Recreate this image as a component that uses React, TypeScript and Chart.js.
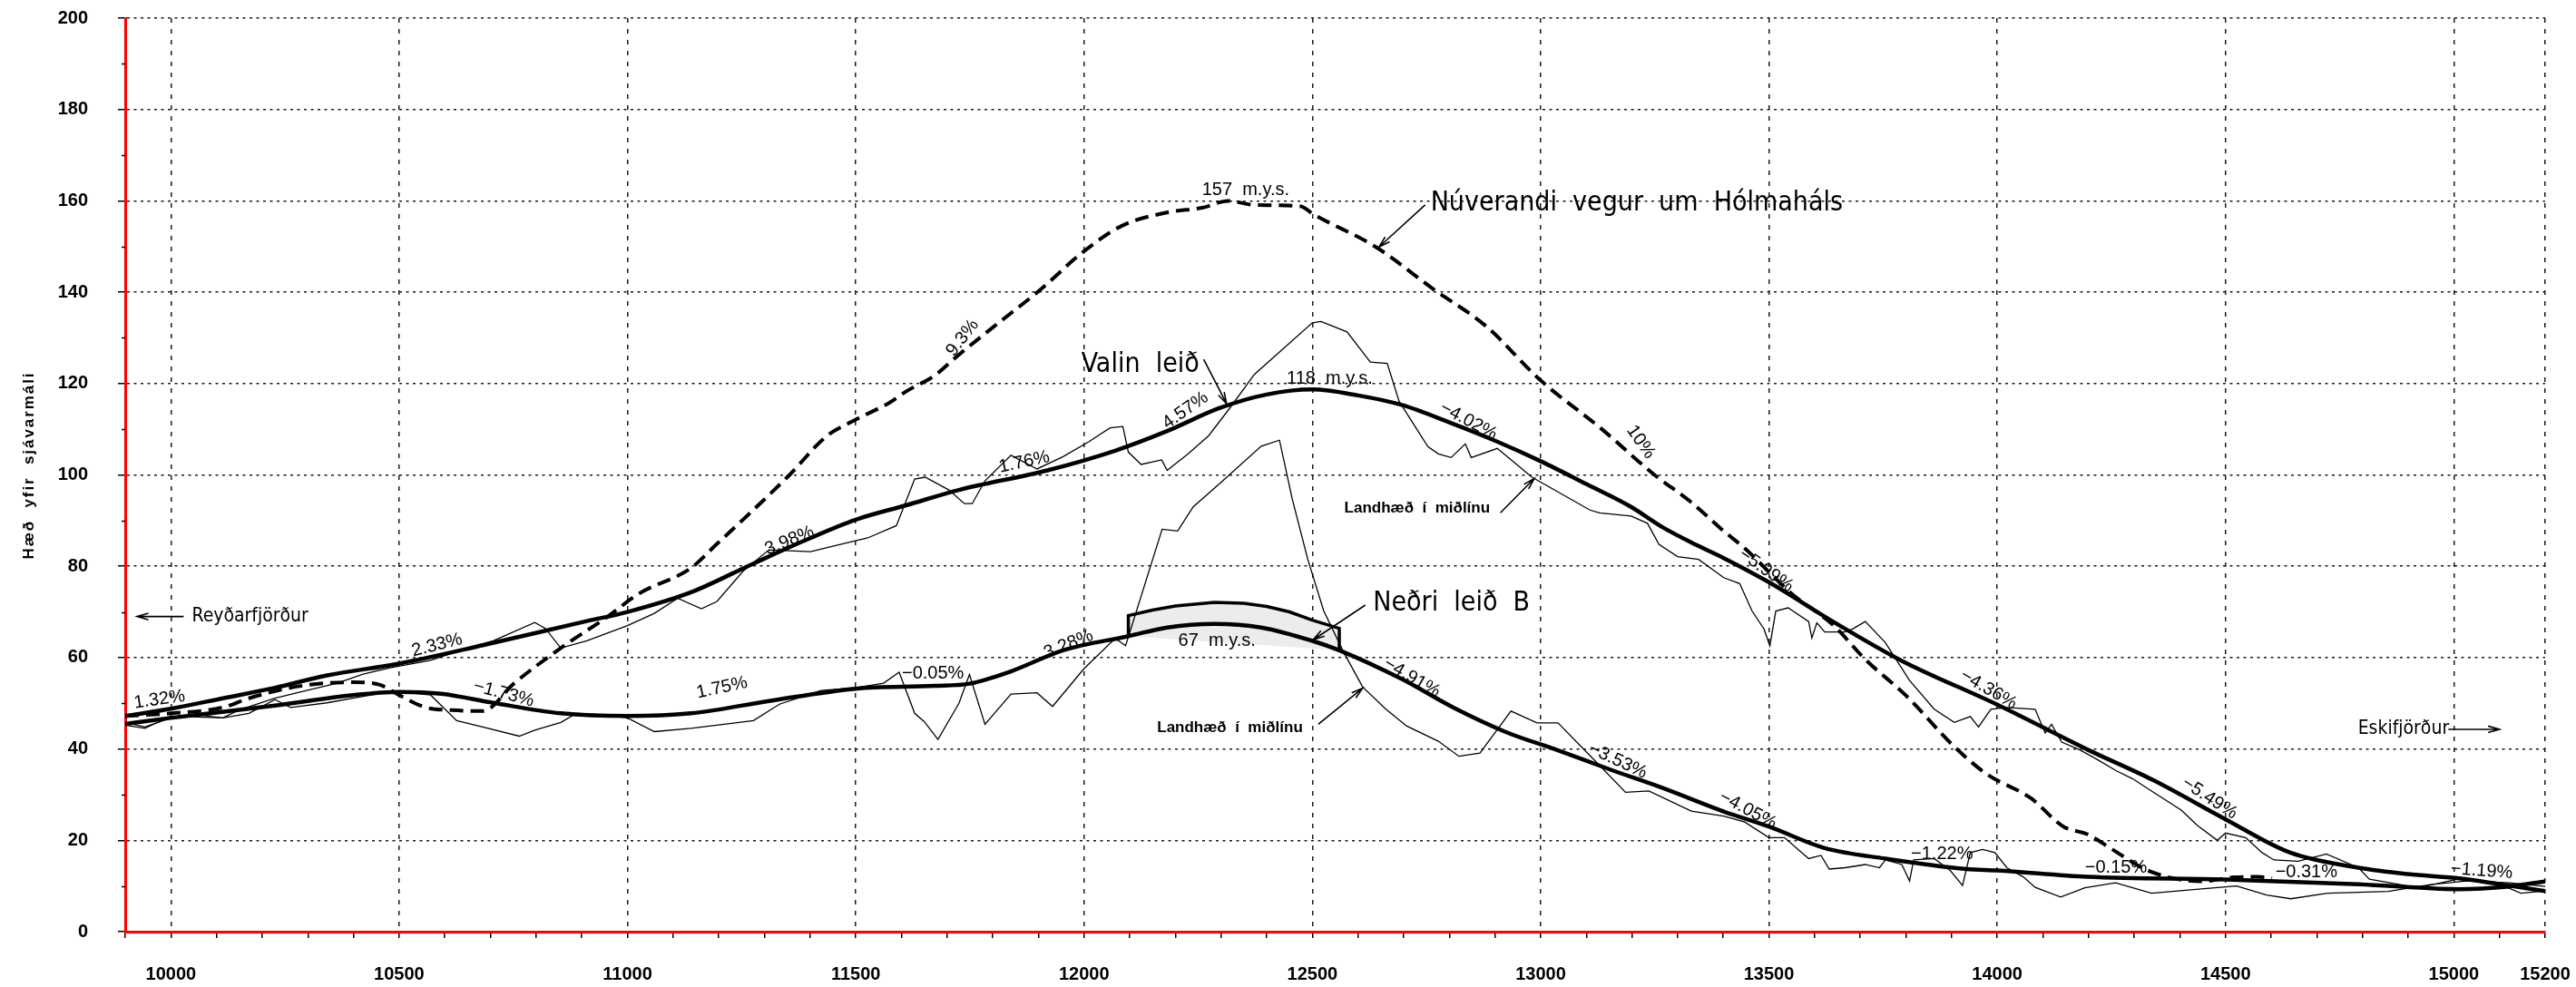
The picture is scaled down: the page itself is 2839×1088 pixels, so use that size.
import React, { useEffect, useRef } from 'react';
import { Chart, registerables } from 'chart.js';

Chart.register(...registerables);

// ---------- axes ----------
const X_MIN = 9900;
const X_MAX = 15200;
const Y_MIN = 0;
const Y_MAX = 200;
const xLabelTicks = [10000, 10500, 11000, 11500, 12000, 12500, 13000, 13500, 14000, 14500, 15000, 15200];
const yLabelTicks = [0, 20, 40, 60, 80, 100, 120, 140, 160, 180, 200];
const yMinorTicks = [10, 30, 50, 70, 90, 110, 130, 150, 170, 190];
const yTitle = 'Hæð  yfir  sjávarmáli';

// ---------- Núverandi vegur (dashed) ----------
const roadX = [9900, 10000, 10114, 10171, 10285, 10399, 10456, 10500, 10558, 10615, 10683, 10752, 10854, 10957, 11025, 11139, 11196, 11253, 11356, 11435, 11500, 11572, 11614, 11672, 11722, 11804, 11905, 11994, 12082, 12184, 12259, 12316, 12373, 12475, 12500, 12639, 12766, 12880, 13000, 13133, 13247, 13330, 13401, 13445, 13551, 13640, 13711, 13800, 13906, 13977, 14074, 14145, 14198, 14252, 14323, 14376, 14447, 14518, 14571, 14602];
const roadY = [47.2, 47.8, 49.1, 51.1, 53.8, 54.6, 54.1, 51.8, 49.1, 48.5, 48.3, 54.4, 62.1, 69.0, 74.0, 79.6, 84.9, 90.2, 100.1, 108.4, 112.1, 115.7, 118.5, 121.7, 126.0, 132.6, 140.6, 148.5, 154.5, 157.5, 158.5, 160.0, 159.1, 158.8, 157.2, 149.9, 140.6, 132.6, 120.7, 110.1, 100.2, 94.0, 87.7, 84.1, 73.9, 67.2, 59.6, 51.7, 40.5, 34.5, 29.2, 23.0, 21.3, 18.0, 13.7, 11.9, 11.0, 11.9, 12.0, 11.7];

// ---------- Valin leið ----------
const valinX = [9900, 10000, 10114, 10228, 10342, 10500, 10683, 10911, 11000, 11139, 11276, 11401, 11500, 11612, 11726, 11920, 12068, 12182, 12296, 12400, 12500, 12600, 12696, 12800, 12900, 13000, 13100, 13198, 13266, 13330, 13401, 13500, 13640, 13791, 14000, 14199, 14341, 14500, 14642, 14791, 14900, 15008, 15100, 15200];
const valinY = [47.2, 48.8, 51.1, 53.4, 56.1, 58.7, 62.7, 68.0, 70.0, 74.3, 80.6, 86.2, 90.2, 93.4, 96.7, 101.0, 105.3, 109.6, 114.6, 117.6, 118.7, 117.4, 115.3, 111.5, 107.5, 103.0, 98.0, 93.0, 88.6, 85.2, 81.8, 76.5, 67.9, 59.3, 49.7, 39.8, 33.2, 24.6, 17.3, 14.0, 12.6, 11.7, 10.4, 8.9];

// ---------- Neðri leið B ----------
const nedriX = [9900, 10000, 10228, 10399, 10500, 10592, 10706, 10854, 11000, 11139, 11310, 11500, 11672, 11749, 11840, 11954, 12097, 12182, 12285, 12388, 12502, 12559, 12696, 12810, 12924, 13038, 13152, 13266, 13401, 13500, 13622, 13755, 13933, 14000, 14199, 14500, 14791, 15008, 15121, 15200];
const nedriY = [45.5, 46.8, 49.5, 51.8, 52.5, 52.1, 50.1, 47.8, 47.2, 47.8, 50.5, 53.2, 53.8, 54.3, 57.0, 61.6, 64.7, 66.6, 67.4, 66.6, 63.6, 61.6, 55.3, 49.0, 43.7, 39.7, 35.5, 31.5, 26.3, 23.0, 18.3, 16.0, 13.7, 13.4, 12.0, 11.4, 10.4, 9.3, 9.9, 11.0];

// ---------- göng / skering (box on Neðri leið B) ----------
const tunnelX = [12097, 12097, 12150, 12200, 12285, 12350, 12400, 12450, 12500, 12559, 12559];
const tunnelY = [64.7, 69.2, 70.4, 71.3, 72.1, 71.9, 71.2, 70.0, 68.2, 66.4, 61.6];

// ---------- Landhæð í miðlínu (Valin leið) ----------
const terrainUpX = [9900, 9943, 10000, 10057, 10114, 10148, 10228, 10285, 10364, 10421, 10478, 10569, 10638, 10706, 10797, 10820, 10854, 10911, 11000, 11059, 11110, 11162, 11196, 11253, 11310, 11401, 11458, 11526, 11589, 11629, 11652, 11704, 11738, 11755, 11783, 11840, 11897, 11954, 12011, 12057, 12085, 12097, 12125, 12170, 12182, 12228, 12273, 12319, 12373, 12500, 12519, 12576, 12627, 12664, 12690, 12753, 12776, 12804, 12835, 12848, 12905, 12981, 13108, 13129, 13198, 13234, 13259, 13300, 13346, 13401, 13436, 13463, 13489, 13502, 13515, 13542, 13587, 13594, 13605, 13622, 13667, 13684, 13711, 13755, 13808, 13862, 13906, 13941, 13959, 13986, 14021, 14083, 14105, 14119, 14141, 14181, 14217, 14261, 14296, 14341, 14403, 14438, 14482, 14500, 14544, 14580, 14606, 14659, 14721, 14791, 14815, 14922, 15008, 15088, 15147, 15200];
const terrainUpY = [45.8, 44.8, 46.8, 47.5, 46.8, 48.5, 51.1, 52.5, 54.4, 56.4, 57.7, 59.4, 61.7, 63.7, 67.7, 66.4, 62.1, 63.7, 67.0, 69.7, 73.0, 70.7, 72.3, 78.9, 83.6, 83.2, 84.6, 86.2, 88.9, 99.1, 99.5, 96.7, 93.7, 93.7, 98.7, 104.3, 101.3, 104.0, 107.3, 110.3, 110.6, 105.0, 102.3, 103.3, 101.0, 104.6, 108.6, 114.6, 122.0, 133.3, 133.6, 131.3, 124.7, 124.4, 116.1, 106.2, 104.6, 103.8, 106.8, 103.8, 105.8, 99.5, 92.3, 91.7, 91.0, 89.4, 84.8, 82.1, 81.5, 77.5, 76.2, 70.2, 66.3, 62.6, 70.2, 70.9, 67.9, 64.3, 67.6, 65.6, 65.6, 66.3, 67.9, 63.3, 55.0, 48.7, 45.8, 47.1, 44.8, 48.7, 49.1, 48.7, 43.5, 45.4, 41.5, 39.8, 37.8, 35.2, 33.5, 30.6, 26.6, 23.3, 20.0, 21.6, 20.6, 17.3, 15.7, 15.4, 17.0, 14.0, 11.5, 9.6, 11.5, 10.9, 8.4, 8.9];

// ---------- Landhæð í miðlínu (Neðri leið B) ----------
const terrainLowX = [9900, 9943, 10000, 10114, 10171, 10228, 10262, 10342, 10399, 10456, 10500, 10569, 10626, 10683, 10763, 10797, 10854, 10888, 10945, 11000, 11059, 11139, 11276, 11333, 11424, 11500, 11561, 11595, 11629, 11650, 11680, 11726, 11749, 11783, 11840, 11897, 11931, 12000, 12068, 12091, 12171, 12205, 12239, 12296, 12388, 12428, 12456, 12490, 12525, 12570, 12610, 12661, 12707, 12776, 12821, 12867, 12935, 12992, 13038, 13129, 13186, 13237, 13330, 13401, 13447, 13500, 13534, 13587, 13614, 13632, 13667, 13711, 13742, 13755, 13791, 13808, 13817, 13862, 13897, 13924, 13941, 13968, 13995, 14021, 14057, 14083, 14139, 14192, 14259, 14338, 14418, 14524, 14590, 14643, 14723, 14856, 14949, 15028, 15121, 15200];
const terrainLowY = [45.2, 44.5, 47.2, 46.8, 47.8, 50.8, 49.1, 50.1, 51.1, 52.1, 52.5, 51.8, 46.2, 44.8, 42.8, 44.1, 45.8, 47.8, 47.5, 46.8, 43.8, 44.5, 46.2, 49.8, 52.8, 53.4, 54.4, 56.8, 47.8, 46.0, 42.1, 50.0, 56.3, 45.4, 52.0, 52.3, 49.3, 57.6, 64.2, 62.6, 88.1, 87.7, 93.0, 98.0, 106.3, 107.6, 94.7, 81.5, 70.2, 60.9, 53.6, 48.7, 45.0, 41.7, 38.4, 39.1, 48.3, 45.7, 45.7, 36.4, 30.5, 30.8, 26.4, 25.3, 24.0, 20.6, 20.6, 16.0, 16.7, 13.7, 14.0, 14.7, 14.0, 15.7, 14.7, 11.1, 15.7, 16.0, 13.4, 10.1, 17.3, 18.0, 17.3, 14.0, 12.0, 9.7, 7.6, 9.6, 10.7, 8.4, 9.1, 10.0, 8.0, 7.2, 8.4, 8.8, 10.3, 11.1, 10.7, 9.9];

// ---------- text labels (data coordinates) ----------
type Label = { text: string; x: number; y: number; rot: number; kind: 'pct' | 'big' | 'small' | 'place'; align?: CanvasTextAlign };
const gradeLabels: Label[] = [
  { text: '1.32%', x: 9975, y: 50.8, rot: -8, kind: 'pct' },
  { text: '2.33%', x: 10583, y: 62.7, rot: -14, kind: 'pct' },
  { text: '3.98%', x: 11355, y: 85.6, rot: -22, kind: 'pct' },
  { text: '\u22121.73%', x: 10729, y: 52.1, rot: 15, kind: 'pct' },
  { text: '1.75%', x: 11207, y: 53.4, rot: -12, kind: 'pct' },
  { text: '\u22120.05%', x: 11669, y: 56.6, rot: 0, kind: 'pct' },
  { text: '3.28%', x: 11966, y: 62.9, rot: -22, kind: 'pct' },
  { text: '1.76%', x: 11869, y: 102.8, rot: -12, kind: 'pct' },
  { text: '4.57%', x: 12222, y: 114.1, rot: -35, kind: 'pct' },
  { text: '9.3%', x: 11734, y: 130.0, rot: -52, kind: 'pct' },
  { text: '\u22124.02%', x: 12842, y: 111.8, rot: 28, kind: 'pct' },
  { text: '10%', x: 13219, y: 107.2, rot: 55, kind: 'pct' },
  { text: '\u22125.99%', x: 13494, y: 79.1, rot: 35, kind: 'pct' },
  { text: '\u22124.36%', x: 13981, y: 53.0, rot: 30, kind: 'pct' },
  { text: '\u22125.49%', x: 14465, y: 29.2, rot: 33, kind: 'pct' },
  { text: '\u22124.05%', x: 13454, y: 26.6, rot: 28, kind: 'pct' },
  { text: '\u22123.53%', x: 13169, y: 37.4, rot: 25, kind: 'pct' },
  { text: '\u22124.91%', x: 12718, y: 55.6, rot: 30, kind: 'pct' },
  { text: '\u22121.22%', x: 13879, y: 17.0, rot: 0, kind: 'pct' },
  { text: '\u22120.15%', x: 14260, y: 14.0, rot: 0, kind: 'pct' },
  { text: '\u22120.31%', x: 14677, y: 13.0, rot: 0, kind: 'pct' },
  { text: '\u22121.19%', x: 15061, y: 13.3, rot: 4, kind: 'pct' },
  { text: '157  m.y.s.', x: 12354, y: 162.3, rot: 0, kind: 'pct' },
  { text: '118  m.y.s.', x: 12538, y: 121.1, rot: 0, kind: 'pct' },
  { text: '67  m.y.s.', x: 12291, y: 63.6, rot: 0, kind: 'pct' },
];
const nameLabels: Label[] = [
  { text: 'Núverandi  vegur  um  Hólmaháls', x: 12759, y: 159.5, rot: 0, kind: 'big', align: 'left' },
  { text: 'Valin  leið', x: 11994, y: 124.0, rot: 0, kind: 'big', align: 'left' },
  { text: 'Neðri  leið  B', x: 12633, y: 71.9, rot: 0, kind: 'big', align: 'left' },
  { text: 'Landhæð  í  miðlínu', x: 12570, y: 92.6, rot: 0, kind: 'small', align: 'left' },
  { text: 'Landhæð  í  miðlínu', x: 12160, y: 44.7, rot: 0, kind: 'small', align: 'left' },
  { text: 'Reyðarfjörður', x: 10046, y: 69.0, rot: 0, kind: 'place', align: 'left' },
  { text: 'Eskifjörður', x: 14790, y: 44.3, rot: 0, kind: 'place', align: 'left' },
];
// arrows: [fromX, fromY, toX, toY] (head at "to")
const arrows: number[][] = [
  [12747, 159.1, 12646, 149.9],
  [12262, 125.3, 12312, 115.6],
  [12616, 71.5, 12502, 63.9],
  [12912, 91.7, 12986, 99.2],
  [12513, 45.4, 12610, 53.3],
  [10028, 69.0, 9926, 69.0],
  [14988, 44.3, 15100, 44.3],
];

const FONT_PCT = '20px "Liberation Sans", Arial, sans-serif';
const FONT_BIG = '30px "Liberation Sans Narrow", "DejaVu Sans Condensed", sans-serif';
const FONT_SMALL = 'bold 17px "Liberation Sans", Arial, sans-serif';
const FONT_PLACE = '21px "Liberation Sans Narrow", "DejaVu Sans Condensed", sans-serif';

const pts = (xs: number[], ys: number[]) => xs.map((x, i) => ({ x, y: ys[i] }));

const annotationPlugin = {
  id: 'profileAnnotations',
  afterDraw(chart: any) {
    const { ctx, scales } = chart;
    const xs = scales.x;
    const ys = scales.y;
    ctx.save();
    // minor y ticks
    ctx.strokeStyle = '#000';
    ctx.lineWidth = 1.5;
    yMinorTicks.forEach((v) => {
      const py = Math.round(ys.getPixelForValue(v)) + 0.5;
      ctx.beginPath();
      ctx.moveTo(xs.left - 4, py);
      ctx.lineTo(xs.left, py);
      ctx.stroke();
    });
    // y title
    ctx.save();
    ctx.translate(32, 513);
    ctx.rotate(-Math.PI / 2);
    ctx.font = 'bold 17px "Liberation Sans", Arial, sans-serif';
    ctx.fillStyle = '#000';
    ctx.textAlign = 'center';
    ctx.textBaseline = 'middle';
    const w0 = ctx.measureText(yTitle).width;
    const extra = Math.max(0, (205 - w0) / (yTitle.length - 1));
    (ctx as any).letterSpacing = extra.toFixed(2) + 'px';
    ctx.fillText(yTitle, 0, 0);
    (ctx as any).letterSpacing = '0px';
    ctx.restore();

    const fontFor = (k: string) => (k === 'pct' ? FONT_PCT : k === 'big' ? FONT_BIG : k === 'small' ? FONT_SMALL : FONT_PLACE);
    [...gradeLabels, ...nameLabels].forEach((l) => {
      const px = xs.getPixelForValue(l.x);
      const py = ys.getPixelForValue(l.y);
      ctx.save();
      ctx.translate(px, py);
      ctx.rotate((l.rot * Math.PI) / 180);
      ctx.font = fontFor(l.kind);
      ctx.fillStyle = '#000';
      ctx.textAlign = l.align || 'center';
      ctx.textBaseline = 'middle';
      ctx.fillText(l.text, 0, 0);
      ctx.restore();
    });

    ctx.strokeStyle = '#000';
    ctx.lineWidth = 1.6;
    arrows.forEach(([x1, y1, x2, y2]) => {
      const ax = xs.getPixelForValue(x1);
      const ay = ys.getPixelForValue(y1);
      const bx = xs.getPixelForValue(x2);
      const by = ys.getPixelForValue(y2);
      const ang = Math.atan2(by - ay, bx - ax);
      const hl = 13;
      const spread = 0.28;
      ctx.beginPath();
      ctx.moveTo(ax, ay);
      ctx.lineTo(bx, by);
      ctx.moveTo(bx - hl * Math.cos(ang - spread), by - hl * Math.sin(ang - spread));
      ctx.lineTo(bx, by);
      ctx.lineTo(bx - hl * Math.cos(ang + spread), by - hl * Math.sin(ang + spread));
      ctx.stroke();
    });
    ctx.restore();
  },
};

export default function App() {
  const ref = useRef<HTMLCanvasElement | null>(null);
  useEffect(() => {
    if (!ref.current) return;
    const chart = new Chart(ref.current, {
      type: 'line',
      data: {
        datasets: [
          {
            label: 'Valin leið',
            data: pts(valinX, valinY),
            borderColor: '#000',
            borderWidth: 4.5,
            pointRadius: 0,
            cubicInterpolationMode: 'monotone',
            fill: false,
            order: 1,
          },
          {
            label: 'Neðri leið B',
            data: pts(nedriX, nedriY),
            borderColor: '#000',
            borderWidth: 4.5,
            pointRadius: 0,
            cubicInterpolationMode: 'monotone',
            fill: false,
            order: 1,
          },
          {
            label: 'Núverandi vegur um Hólmaháls',
            data: pts(roadX, roadY),
            borderColor: '#000',
            borderWidth: 4,
            borderDash: [15, 8],
            pointRadius: 0,
            cubicInterpolationMode: 'monotone',
            fill: false,
            order: 2,
          },
          {
            label: 'Landhæð í miðlínu (Valin leið)',
            data: pts(terrainUpX, terrainUpY),
            borderColor: '#000',
            borderWidth: 1.3,
            pointRadius: 0,
            tension: 0,
            fill: false,
            order: 3,
          },
          {
            label: 'Landhæð í miðlínu (Neðri leið B)',
            data: pts(terrainLowX, terrainLowY),
            borderColor: '#000',
            borderWidth: 1.3,
            pointRadius: 0,
            tension: 0,
            fill: false,
            order: 3,
          },
          {
            label: 'Göng',
            data: pts(tunnelX, tunnelY),
            borderColor: '#000',
            borderWidth: 3.5,
            pointRadius: 0,
            tension: 0,
            backgroundColor: '#ececec',
            fill: 'shape',
            order: 4,
          },
        ] as any,
      },
      options: {
        animation: false,
        responsive: false,
        maintainAspectRatio: false,
        devicePixelRatio: 1,
        layout: { padding: { top: 20, right: 34, left: 0, bottom: 0 } },
        plugins: { legend: { display: false }, tooltip: { enabled: false } },
        scales: {
          x: {
            type: 'linear',
            min: X_MIN,
            max: X_MAX,
            afterFit: (s: any) => {
              s.height = 61;
              s.paddingLeft = 0;
              s.paddingRight = 0;
            },
            ticks: {
              stepSize: 100,
              autoSkip: false,
              maxRotation: 0,
              minRotation: 0,
              padding: 28,
              color: '#000',
              font: { family: '"Liberation Sans", Arial, sans-serif', size: 20, weight: 'bold' },
              callback: (v: any) => (xLabelTicks.includes(Number(v)) ? String(v) : ''),
            },
            grid: {
              color: (c: any) => (c.tick && xLabelTicks.includes(c.tick.value) ? '#1a1a1a' : 'transparent'),
              lineWidth: 1.5,
              tickColor: '#000',
              tickLength: 7,
              tickWidth: 1.5,
            },
            border: { color: '#ff0000', width: 3, dash: [5, 7] },
          },
          y: {
            type: 'linear',
            min: Y_MIN,
            max: Y_MAX,
            afterFit: (s: any) => {
              s.width = 138;
              s.paddingTop = 0;
              s.paddingBottom = 0;
            },
            ticks: {
              stepSize: 20,
              padding: 33,
              color: '#000',
              font: { family: '"Liberation Sans", Arial, sans-serif', size: 20, weight: 'bold' },
              callback: (v: any) => (yLabelTicks.includes(Number(v)) ? String(v) : ''),
            },
            grid: {
              color: (c: any) => (c.tick && c.tick.value > 0 ? '#1a1a1a' : 'transparent'),
              lineWidth: 1.5,
              tickColor: '#000',
              tickLength: 8,
              tickWidth: 1.5,
            },
            border: { color: '#ff0000', width: 3, dash: [3, 4.5] },
          },
        },
      } as any,
      plugins: [annotationPlugin],
    });
    return () => chart.destroy();
  }, []);

  return (
    <div style={{ position: 'fixed', left: 0, top: 0, width: 2839, height: 1088, background: '#fff' }}>
      <canvas ref={ref} width={2839} height={1088} style={{ display: 'block', width: 2839, height: 1088 }} />
    </div>
  );
}
